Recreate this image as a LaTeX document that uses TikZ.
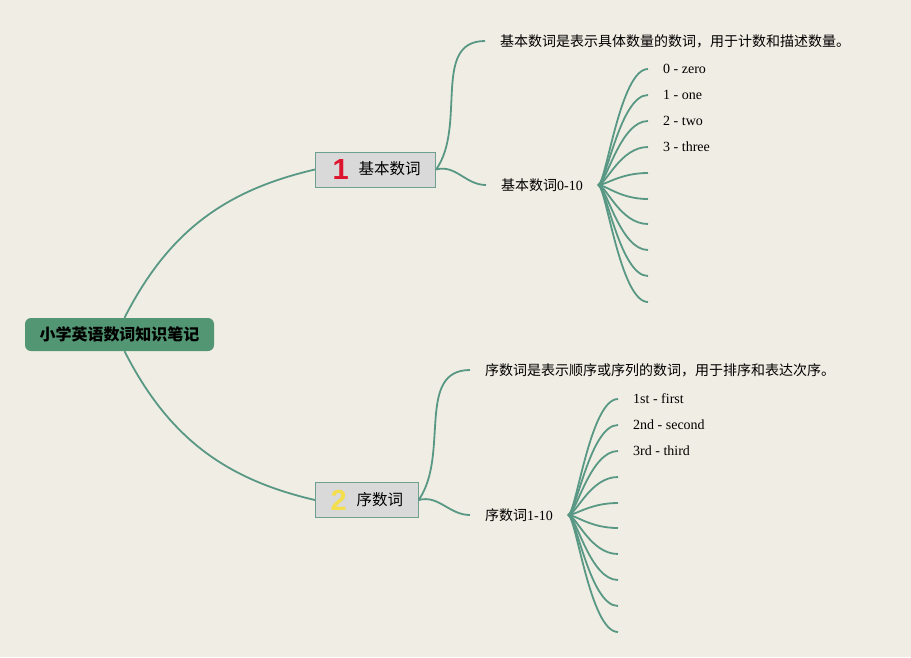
\documentclass[tikz,border=0pt]{standalone}
\usepackage{fontspec}
\setmainfont{Liberation Serif}
\newfontfamily\cjk{Noto Sans CJK SC}
\newfontfamily\numfont{Liberation Sans}
\usepackage{tikz}
\usetikzlibrary{positioning,calc}
\definecolor{paper}{RGB}{240,237,228}
\definecolor{linkgreen}{RGB}{88,152,132}
\definecolor{rootgreen}{RGB}{82,150,115}
\definecolor{topicgray}{RGB}{217,217,217}
\definecolor{topicline}{RGB}{110,160,145}
\definecolor{numred}{RGB}{220,20,45}
\definecolor{numyellow}{RGB}{245,222,75}
\newcommand\topicnum[2]{\raisebox{-4.5pt}{\numfont\fontsize{29}{29}\selectfont\bfseries\color{#1}#2}\hspace{10pt}}
\tikzset{
  root/.style={fill=rootgreen,rounded corners=6pt,minimum width=189pt,minimum height=33pt,
    font=\cjk\bfseries\fontsize{16}{18}\selectfont},
  topic/.style={draw=topicline,fill=topicgray,line width=1pt,anchor=west,minimum height=35pt,
    inner xsep=15pt,inner ysep=0pt,font=\cjk\fontsize{15.5}{18}\selectfont},
  leaf/.style={anchor=west,inner xsep=15pt,inner ysep=2pt,font=\fontsize{14}{16}\selectfont},
  link/.style={draw=linkgreen,line width=1.8pt}
}

\begin{document}
\begin{tikzpicture}[x=1pt,y=-1pt]
  \fill[paper] (0,0) rectangle (911,657);
  \useasboundingbox (0,0) rectangle (911,657);

  \node[root] (root) at (119.5,334.5) {小学英语数词知识笔记};
  \node[topic] (b1) at (315,169.5) {\hspace{2pt}\topicnum{numred}{1}基本数词};
  \node[topic] (b2) at (315,500) {\topicnum{numyellow}{2}序数词};

  % cardinal numbers
  \node[leaf] (d1) at (485,41) {\cjk 基本数词是表示具体数量的数词，用于计数和描述数量。};
  \node[leaf] (s1) at (486,185) {{\cjk 基本数词}0-10};
  \foreach \n/\y/\t in {k0/69/0 - zero,k1/95/1 - one,k2/121/2 - two,k3/147/3 - three}
    \node[leaf] (\n) at (648,\y) {\t};
  \foreach \n/\y in {k4/173,k5/199,k6/224,k7/250,k8/276,k9/302}
    \coordinate (\n) at (648,\y);

  % ordinal numbers
  \node[leaf] (d2) at (470,370) {\cjk 序数词是表示顺序或序列的数词，用于排序和表达次序。};
  \node[leaf] (s2) at (470,515) {{\cjk 序数词}1-10};
  \foreach \n/\y/\t in {o1/399/1st - first,o2/425/2nd - second,o3/451/3rd - third}
    \node[leaf] (\n) at (618,\y) {\t};
  \foreach \n/\y in {o4/477,o5/503,o6/528,o7/554,o8/580,o9/606,o10/632}
    \coordinate (\n) at (618,\y);

  \draw[link] ([xshift=5pt]root.north) to[out=63,in=193] (b1.west);
  \draw[link] ([xshift=5pt]root.south) to[out=-63,in=167] (b2.west);
  \draw[link] (b1.east) to[out=55,in=180] (d1.west)
              (b1.east) to[out=15,in=180] (s1.west);
  \draw[link] (b2.east) to[out=55,in=180] (d2.west)
              (b2.east) to[out=15,in=180] (s2.west);

  \coordinate (f1) at ([xshift=22pt]s1.east);
  \coordinate (f2) at ([xshift=22pt]s2.east);
  \foreach \n in {k0,k1,k2,k3,k4,k5,k6,k7,k8,k9}
    \draw[link] (s1.east) .. controls ([xshift=8pt]s1.east) and (f1 |- \n) .. (\n);
  \foreach \n in {o1,o2,o3,o4,o5,o6,o7,o8,o9,o10}
    \draw[link] (s2.east) .. controls ([xshift=8pt]s2.east) and (f2 |- \n) .. (\n);
\end{tikzpicture}
\end{document}
